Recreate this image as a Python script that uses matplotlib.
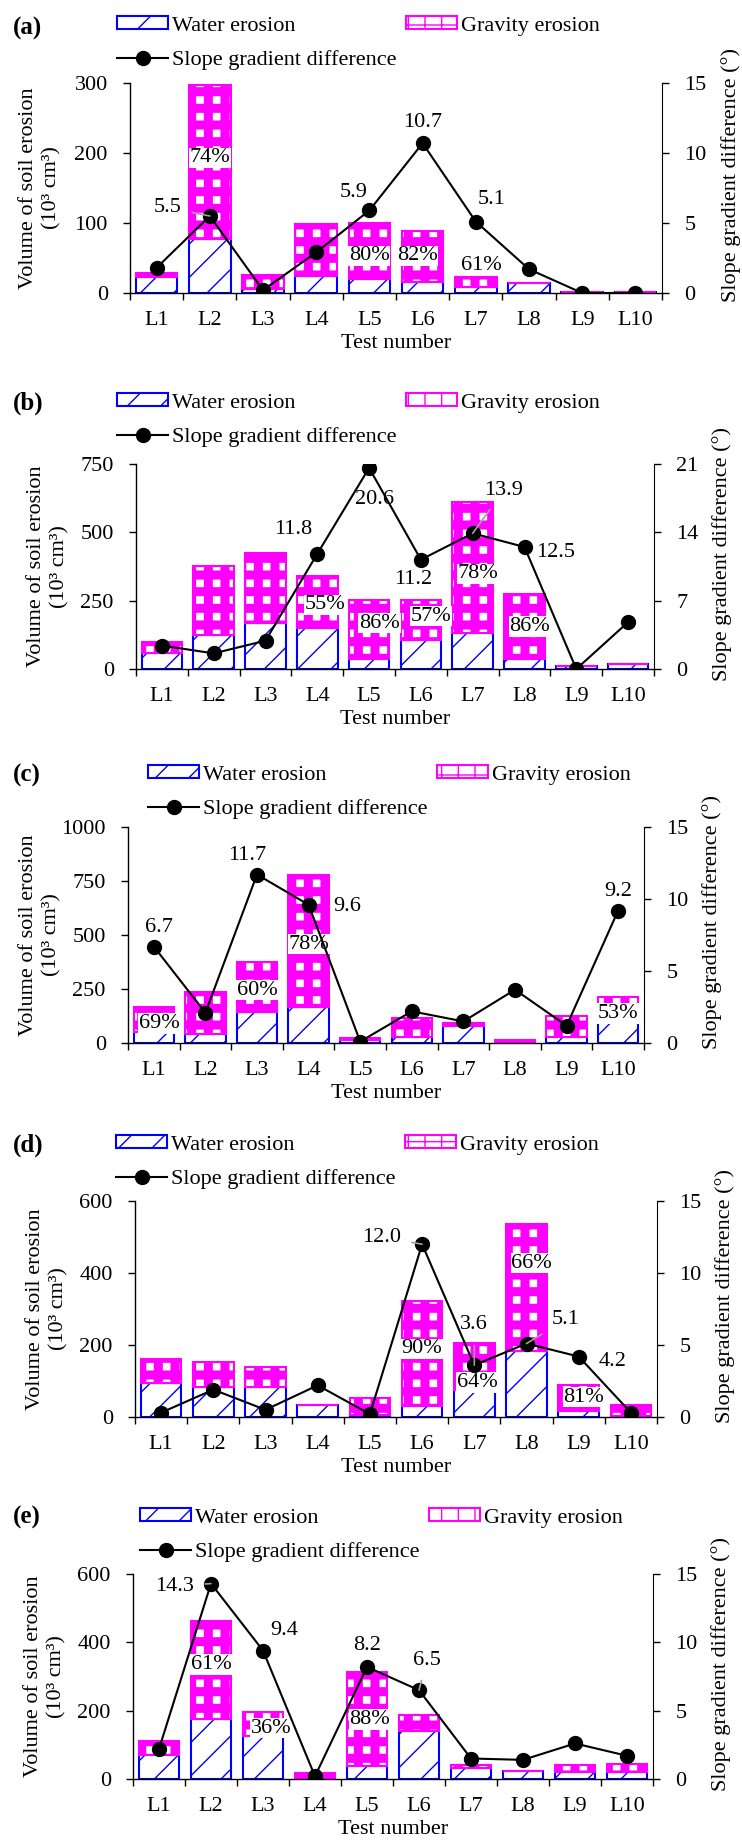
import matplotlib
matplotlib.use("Agg")
import matplotlib.pyplot as plt
import numpy as np

plt.rcParams["font.family"] = ["Liberation Serif", "DejaVu Serif"]
plt.rcParams["font.size"] = 16
plt.rcParams["hatch.linewidth"] = 1.0

tests = ["L1", "L2", "L3", "L4", "L5", "L6", "L7", "L8", "L9", "L10"]

# (a)
a_water = [23, 77, 6, 24, 20, 16, 9, 14, 2, 1]
a_gravity = [6, 220, 19, 74, 80, 72, 14, 0, 0, 0]
a_slope = [1.8, 5.5, 0.2, 2.9, 5.9, 10.7, 5.1, 1.7, 0.0, 0.0]
a_slope_lab = [1, 4, 5, 6]
a_pct = [(1, 74), (4, 80), (5, 82), (6, 61)]

# (b)
b_water = [59, 126, 168, 150, 35, 107, 132, 38, 10, 17]
b_gravity = [40, 250, 256, 191, 216, 147, 478, 238, 0, 0]
b_slope = [2.4, 1.6, 2.9, 11.8, 20.6, 11.2, 13.9, 12.5, 0.0, 4.8]
b_slope_lab = [3, 4, 5, 6, 7]
b_pct = [(3, 55), (4, 86), (5, 57), (6, 78), (7, 86)]

# (c)
c_water = [51, 43, 144, 167, 12, 28, 79, 2, 28, 100]
c_gravity = [116, 194, 229, 609, 13, 90, 14, 11, 99, 113]
c_slope = [6.7, 2.1, 11.7, 9.6, 0.1, 2.2, 1.5, 3.7, 1.2, 9.2]
c_slope_lab = [0, 2, 3, 9]
c_pct = [(0, 69), (2, 60), (3, 78), (9, 53)]

# (d)
d_water = [94, 83, 83, 34, 6, 30, 74, 182, 17, 3]
d_gravity = [67, 69, 55, 0, 47, 291, 131, 354, 72, 31]
d_slope = [0.3, 1.9, 0.5, 2.2, 0.2, 12.0, 3.6, 5.1, 4.2, 0.3]
d_slope_lab = [5, 6, 7, 8]
d_pct = [(5, 90), (6, 64), (7, 66), (8, 81)]

# (e)
e_water = [70, 176, 125, 3, 38, 140, 31, 22, 20, 20]
e_gravity = [40, 285, 70, 15, 275, 46, 11, 0, 22, 25]
e_slope = [2.2, 14.3, 9.4, 0.2, 8.2, 6.5, 1.5, 1.4, 2.6, 1.7]
e_slope_lab = [1, 2, 4, 5]
e_pct = [(1, 61), (2, 36), (4, 88)]

W, H = 742, 1842
fig = plt.figure(figsize=(W / 100, H / 100), dpi=100)

BLUE = "#0000FF"
MAG = "#FF00FF"

# layout (pixels): axes box, legend anchor, label offsets
panels = [
    dict(tag="(a)", water=a_water, gravity=a_gravity, slope=a_slope, lab=a_slope_lab, pct=a_pct,
         box=(130, 83, 662, 293), ylim=300, yticks=[0, 100, 200, 300], rlim=15, rticks=[0, 5, 10, 15],
         leg=(117, 16), tagy=28,
         lab_pos=[(-0.8, 6.1, True), (-0.3, 7.2, False), (0, 12.2, False), (0.3, 6.7, False)],
         pct_pos=[(0, 193), (0, 53), (-0.1, 53), (0.1, 40)]),
    dict(tag="(b)", water=b_water, gravity=b_gravity, slope=b_slope, lab=b_slope_lab, pct=b_pct,
         box=(136, 464, 654, 669), ylim=750, yticks=[0, 250, 500, 750], rlim=21, rticks=[0, 7, 14, 21],
         leg=(117, 393), tagy=403,
         lab_pos=[(-0.47, 14.3, False), (0.1, 17.4, False), (-0.15, 9.2, False), (0.6, 18.3, True), (0.6, 11.9, False)],
         pct_pos=[(0.15, 235), (0.2, 168), (0.2, 193), (0.1, 348), (0.1, 156)]),
    dict(tag="(c)", water=c_water, gravity=c_gravity, slope=c_slope, lab=c_slope_lab, pct=c_pct,
         box=(128, 827, 644, 1043), ylim=1000, yticks=[0, 250, 500, 750, 1000], rlim=15, rticks=[0, 5, 10, 15],
         leg=(148, 765), tagy=775,
         lab_pos=[(0.1, 8.0, False), (-0.2, 13.0, False), (0.75, 9.5, False), (0, 10.5, False)],
         pct_pos=[(0.1, 90), (0, 245), (0, 457), (0, 136)]),
    dict(tag="(d)", water=d_water, gravity=d_gravity, slope=d_slope, lab=d_slope_lab, pct=d_pct,
         box=(135, 1201, 657, 1417), ylim=600, yticks=[0, 200, 400, 600], rlim=15, rticks=[0, 5, 10, 15],
         leg=(116, 1135), tagy=1145,
         lab_pos=[(-0.78, 12.5, True), (0, 6.4, True), (0.75, 6.75, True), (0.65, 3.86, False)],
         pct_pos=[(0, 189), (0.05, 96), (0.1, 427), (0.1, 55)]),
    dict(tag="(e)", water=e_water, gravity=e_gravity, slope=e_slope, lab=e_slope_lab, pct=e_pct,
         box=(133, 1574, 653, 1779), ylim=600, yticks=[0, 200, 400, 600], rlim=15, rticks=[0, 5, 10, 15],
         leg=(140, 1508), tagy=1517,
         lab_pos=[(-0.7, 14.1, True), (0.4, 10.9, False), (0, 9.8, False), (0.15, 8.7, True)],
         pct_pos=[(0, 335), (0.15, 149), (0.05, 174)]),
]

x = np.arange(len(tests))
bw = 0.78

for p in panels:
    x0, y0, x1, y1 = p["box"]
    ax = fig.add_axes([x0 / W, 1 - y1 / H, (x1 - x0) / W, (y1 - y0) / H])
    water = np.array(p["water"], dtype=float)
    gravity = np.array(p["gravity"], dtype=float)

    hw = ax.bar(x, water, bw, facecolor="white", edgecolor=BLUE, hatch="/", linewidth=1.5, zorder=2)
    # gravity: white squares in a thick magenta grid
    with plt.rc_context({"hatch.linewidth": 6.5}):
        hg = ax.bar(x, gravity, bw, bottom=water, facecolor="white", edgecolor=MAG, hatch="+",
                    linewidth=1.5, zorder=2)

    for (i, v), (dx, yy) in zip(p["pct"], p["pct_pos"]):
        ax.text(i + dx, yy, f"{v}%", ha="center", va="center", zorder=4,
                bbox=dict(facecolor="white", edgecolor="none", pad=0.5))

    ax.set_xlim(-0.5, len(tests) - 0.5)
    ax.set_ylim(0, p["ylim"])
    ax.set_yticks(p["yticks"])
    ax.set_xticks(x)
    ax.set_xticklabels(tests)
    ax.tick_params(axis="x", length=0, pad=13)
    ax.set_xticks(np.arange(-0.5, len(tests)), minor=True)
    ax.tick_params(axis="x", which="minor", length=5, direction="out", width=1)
    ax.tick_params(axis="y", length=5, direction="out", width=1, pad=11)
    for s in ["top", "right"]:
        ax.spines[s].set_visible(False)
    ax.spines["left"].set_linewidth(1)
    ax.spines["bottom"].set_linewidth(1)
    ax.set_xlabel("Test number", labelpad=3)
    ax.set_ylabel("Volume of soil erosion\n(10³ cm³)", linespacing=1.3)
    ax.yaxis.set_label_coords(-0.128, 0.5)

    ax2 = ax.twinx()
    ax2.set_ylim(0, p["rlim"])
    ax2.set_yticks(p["rticks"])
    ax2.tick_params(axis="y", length=5, direction="out", width=1, pad=11)
    for s in ["top", "left", "bottom"]:
        ax2.spines[s].set_visible(False)
    (hl,) = ax2.plot(x, p["slope"], color="black", marker="o", markersize=10, linewidth=1.5, zorder=3)
    ax2.set_ylabel("Slope gradient difference (°)")
    ax2.yaxis.set_label_coords(1.112, 0.56)

    for i, (dx, yy, lead) in zip(p["lab"], p["lab_pos"]):
        s = p["slope"][i]
        if lead:
            ax2.annotate(f"{s:.1f}", xy=(i, s), xytext=(i + dx, yy), ha="center", va="center",
                         arrowprops=dict(arrowstyle="-", color="#A0A0A0", lw=1.2, shrinkA=6, shrinkB=0))
        else:
            ax2.text(i + dx, yy, f"{s:.1f}", ha="center", va="center")

    lx, ly = p["leg"]
    fig.legend([hw[0], hl, hg[0]],
               ["Water erosion", "Slope gradient difference", "Gravity erosion"],
               ncol=2, loc="upper left", bbox_to_anchor=(lx / W, 1 - ly / H),
               frameon=False, borderpad=0, borderaxespad=0, handlelength=2.3, handleheight=0.55,
               handletextpad=0.18, labelspacing=0.67, columnspacing=0.4)
    fig.text(13 / W, 1 - p["tagy"] / H, p["tag"], fontweight="bold", fontsize=18, va="center", ha="left")

fig.savefig("out.png", dpi=100)
